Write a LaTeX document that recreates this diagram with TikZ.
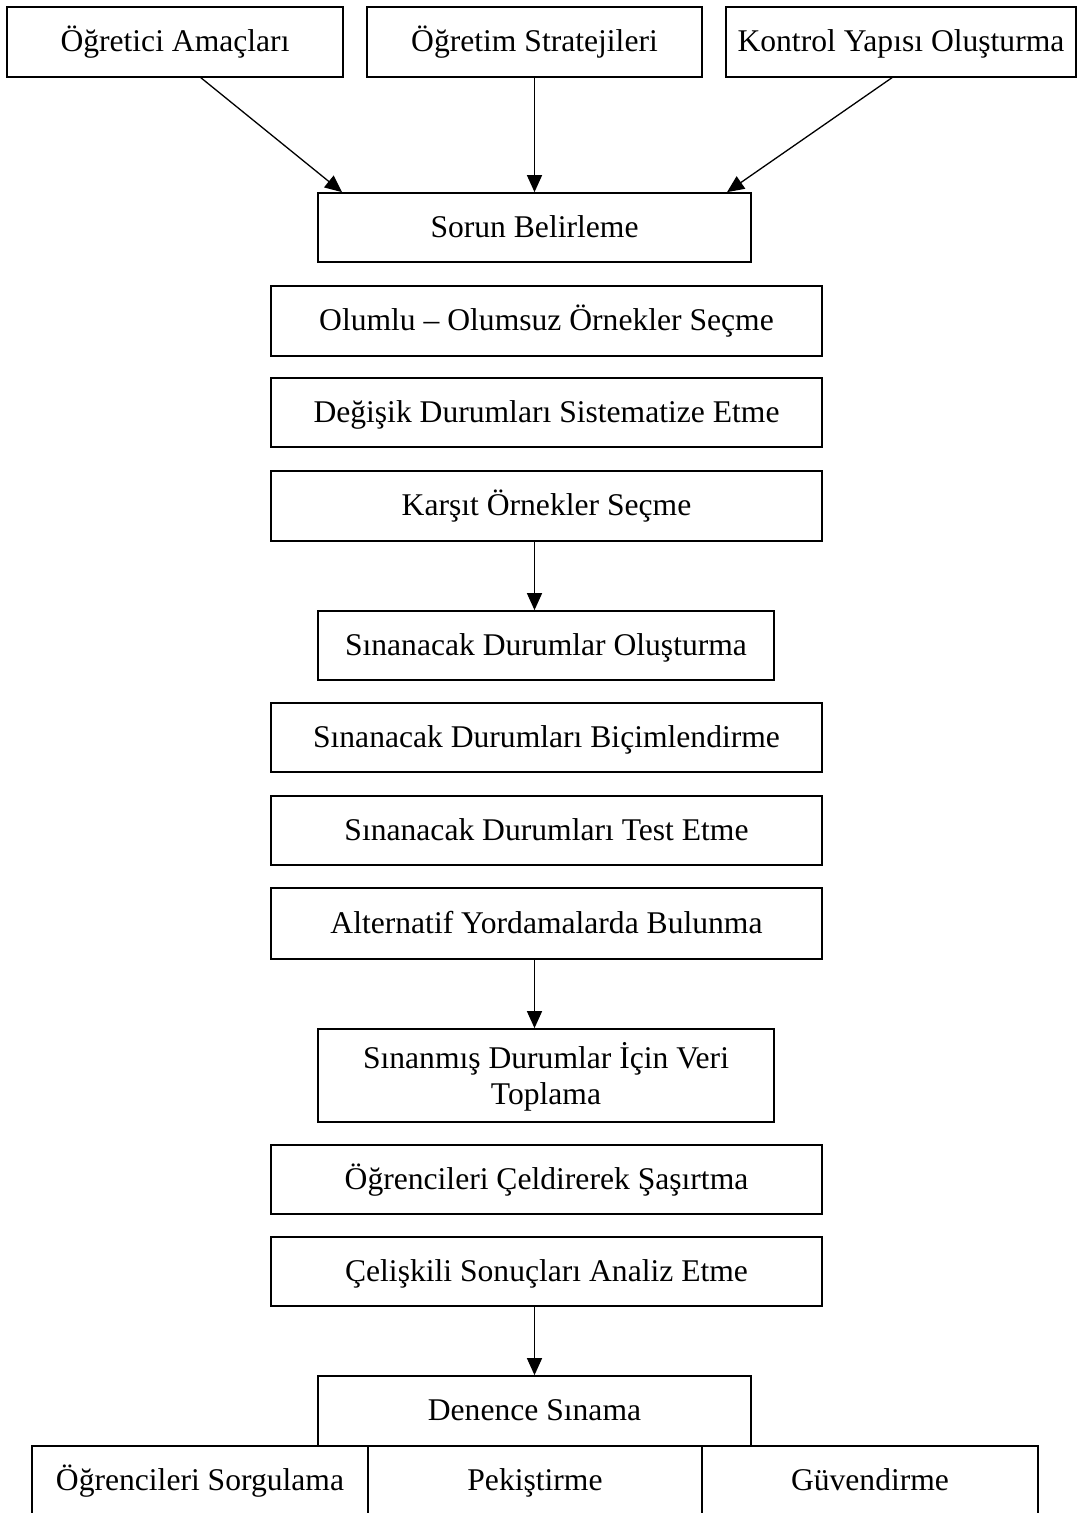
\documentclass[tikz,border=0pt]{standalone}
\usepackage{fontspec}
\setmainfont{Liberation Serif}
\usetikzlibrary{arrows.meta}
\begin{document}
\begin{tikzpicture}[x=1pt,y=-1pt,
  box/.style={draw, line width=1.7pt, rectangle, inner sep=0pt,
    font=\fontsize{31.6}{36}\selectfont, text height=19pt, text depth=0pt},
  twoline/.style={box, align=center, text height=57pt, text depth=0pt},
  arr/.style={line width=1.3pt, -{Triangle[length=17pt,width=15pt]}}]
\useasboundingbox (0,0) rectangle (1079,1513);

% top row
\node[box, minimum width=336, minimum height=70] (t1) at (175,42) {Öğretici Amaçları};
\node[box, minimum width=335, minimum height=70] (t2) at (534.5,42) {Öğretim Stratejileri};
\node[box, minimum width=350, minimum height=70] (t3) at (901,42) {Kontrol Yapısı Oluşturma};

\node[box, minimum width=433, minimum height=69] (sorun) at (534.5,227.5) {Sorun Belirleme};

% first block
\node[box, minimum width=551, minimum height=70] (olumlu) at (546.5,321) {Olumlu – Olumsuz Örnekler Seçme};
\node[box, minimum width=551, minimum height=69] (degisik) at (546.5,412.5) {Değişik Durumları Sistematize Etme};
\node[box, minimum width=551, minimum height=70] (karsit) at (546.5,506) {Karşıt Örnekler Seçme};

% second block
\node[box, minimum width=456, minimum height=69] (sin1) at (546,645.5) {Sınanacak Durumlar Oluşturma};
\node[box, minimum width=551, minimum height=69] (bicim) at (546.5,737.5) {Sınanacak Durumları Biçimlendirme};
\node[box, minimum width=551, minimum height=69] (test) at (546.5,830.5) {Sınanacak Durumları Test Etme};
\node[box, minimum width=551, minimum height=71] (alt) at (546.5,923.5) {Alternatif Yordamalarda Bulunma};

% third block
\node[twoline, minimum width=456, minimum height=93] (sin2) at (546,1075.5) {Sınanmış Durumlar İçin Veri\\Toplama};
\node[box, minimum width=551, minimum height=69] (celd) at (546.5,1179.5) {Öğrencileri Çeldirerek Şaşırtma};
\node[box, minimum width=551, minimum height=69] (celis) at (546.5,1271.5) {Çelişkili Sonuçları Analiz Etme};

% last block
\node[box, minimum width=433, minimum height=70] (denence) at (534.5,1411) {Denence Sınama};
\node[box, minimum width=336, minimum height=70] (b1) at (200,1481) {Öğrencileri Sorgulama};
\node[box, minimum width=334, minimum height=70] (b2) at (535,1481) {Pekiştirme};
\node[box, minimum width=336, minimum height=70] (b3) at (870,1481) {Güvendirme};

% connectors
\coordinate (a1) at (200,77);
\coordinate (a3) at (893,77);
\draw[arr] (a1) -- (sorun.north west -| 342,0);
\draw[arr] (t2.south) -- (sorun.north);
\draw[arr] (a3) -- (sorun.north west -| 727,0);
\draw[arr] (karsit.south -| sorun.center) -- (sin1.north -| sorun.center);
\draw[arr] (alt.south -| sorun.center) -- (sin2.north -| sorun.center);
\draw[arr] (celis.south -| sorun.center) -- (denence.north);
\end{tikzpicture}
\end{document}
